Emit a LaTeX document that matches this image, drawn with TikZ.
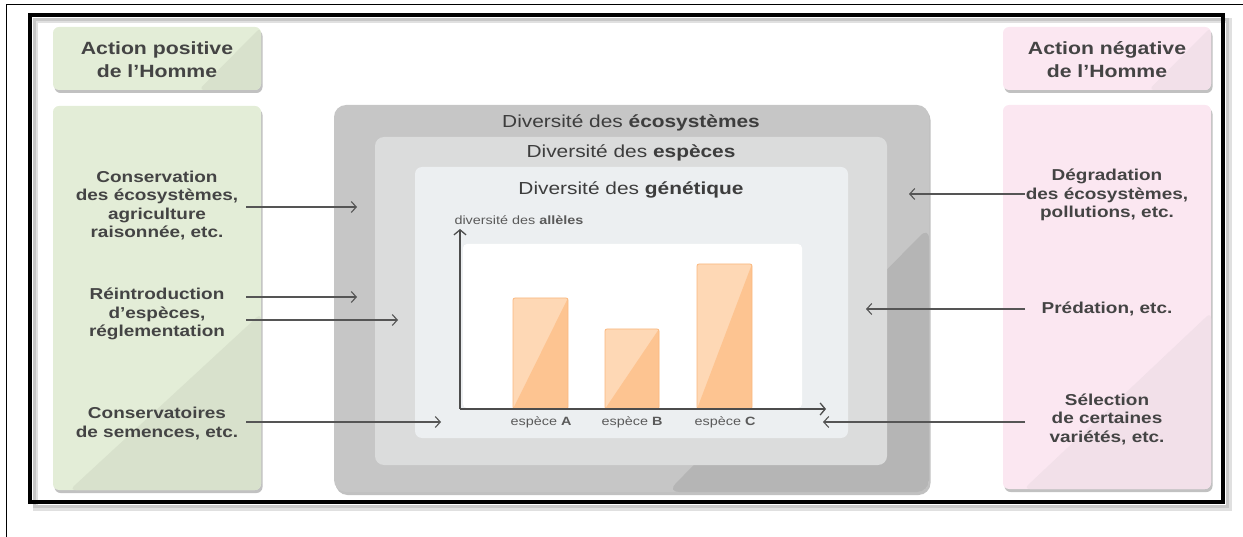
\documentclass[tikz,border=0pt]{standalone}
\usepackage{fontspec}
\setmainfont{Liberation Sans}[FakeStretch=1.2]
\usetikzlibrary{arrows.meta,shadows,calc}
\definecolor{txt}{HTML}{3D3D3D}
\definecolor{txtbold}{HTML}{444444}
\definecolor{txtlight}{HTML}{5A5A5A}
\definecolor{greyA}{HTML}{C6C6C6}
\definecolor{greyAd}{HTML}{B5B5B5}
\definecolor{greyB}{HTML}{DBDCDC}
\definecolor{greyC}{HTML}{ECEFF1}
\definecolor{greenL}{HTML}{E3EDD7}
\definecolor{greenD}{HTML}{D8E1CC}
\definecolor{pinkL}{HTML}{FBE7F1}
\definecolor{pinkD}{HTML}{F2E0E9}
\definecolor{barL}{HTML}{FED8B5}
\definecolor{barD}{HTML}{FDC491}
\definecolor{barE}{HTML}{FBB87E}
\definecolor{arrowc}{HTML}{555555}
\begin{document}
\begin{tikzpicture}[x=1pt,y=-1pt,
  boxbase/.style={rounded corners=6pt, inner sep=0pt,
    drop shadow={shadow xshift=1.5pt,shadow yshift=-3pt,opacity=.35,fill=black!70}},
  greenhead/.style={boxbase, fill=greenL, minimum width=208pt, minimum height=63pt,
    path picture={\fill[greenD] (path picture bounding box.north east) -- (path picture bounding box.south east) -- ($(path picture bounding box.south west)!0.7!(path picture bounding box.south east)$) -- cycle;}},
  pinkhead/.style={boxbase, fill=pinkL, minimum width=208pt, minimum height=63pt,
    path picture={\fill[pinkD] (path picture bounding box.north east) -- (path picture bounding box.south east) -- ($(path picture bounding box.south west)!0.7!(path picture bounding box.south east)$) -- cycle;}},
  greenbig/.style={boxbase, fill=greenL, minimum width=208pt, minimum height=384pt,
    path picture={\fill[greenD] ($(path picture bounding box.north east)!0.54!(path picture bounding box.south east)$) -- (path picture bounding box.south east) -- ($(path picture bounding box.south west)!0.08!(path picture bounding box.south east)$) -- cycle;}},
  pinkbig/.style={boxbase, fill=pinkL, minimum width=208pt, minimum height=384pt,
    path picture={\fill[pinkD] ($(path picture bounding box.north east)!0.54!(path picture bounding box.south east)$) -- (path picture bounding box.south east) -- ($(path picture bounding box.south west)!0.1!(path picture bounding box.south east)$) -- cycle;}},
  greyouter/.style={boxbase, rounded corners=12pt, fill=greyA, minimum width=595pt, minimum height=387pt,
    path picture={\fill[greyAd] ($(path picture bounding box.north east)!0.315!(path picture bounding box.south east)$) -- (path picture bounding box.south east) -- ($(path picture bounding box.south west)!0.56!(path picture bounding box.south east)$) -- cycle;}},
  greymid/.style={rounded corners=9pt, inner sep=0pt, fill=greyB, minimum width=512pt, minimum height=328pt},
  greyin/.style={rounded corners=7pt, inner sep=0pt, fill=greyC, minimum width=433pt, minimum height=271pt},
  chartbg/.style={rounded corners=4pt, inner sep=0pt, fill=white, minimum width=339pt, minimum height=164pt},
  bar/.style={rounded corners=2pt, inner sep=0pt, fill=barL, draw=barE, line width=0.8pt, minimum width=55pt,
    path picture={\fill[barD] (path picture bounding box.north east) -- (path picture bounding box.south east) -- (path picture bounding box.south west) -- cycle;}},
  sidetext/.style={align=center, text=txtbold, font=\fontsize{15.8pt}{18.5pt}\selectfont\bfseries},
  headtext/.style={align=center, text=txtbold, font=\fontsize{17.7pt}{23pt}\selectfont\bfseries},
  titletext/.style={text=txt, font=\fontsize{17.4pt}{20pt}\selectfont},
  smalltext/.style={text=txtlight, font=\fontsize{12pt}{14pt}\selectfont},
  conn/.style={draw=arrowc, line width=1.1pt, -{Straight Barb[length=5pt,width=11pt,line width=1.1pt]}},
  axis/.style={draw=arrowc!90!black, line width=1.4pt, -{Straight Barb[length=5pt,width=12pt,line width=1.3pt]}}
]
\useasboundingbox (0,0) rectangle (1243,537);
% outer thin frame
\draw[line width=0.8pt] (6,537) -- (6,4) -- (1243,4);
% thick frame with soft shadow
\draw[line width=5pt, black!12] (35,21) rectangle (1229,508);
\draw[line width=3pt, black!22] (34,20) rectangle (1227,506);
\draw[line width=4pt, black] (30,15) rectangle (1223,502);

% side boxes
\node[greenhead] (poshead) at (157,58.5) {};
\node[greenbig] (posbox) at (157,298) {};
\node[pinkhead] (neghead) at (1107,58.5) {};
\node[pinkbig] (negbox) at (1107,297) {};

\node[headtext] (posheadtxt) at (157,60) {Action positive\\de l’Homme};
\node[headtext] (negheadtxt) at (1107,60) {Action négative\\de l’Homme};

% nested boxes
\node[greyouter] (eco) at (631.5,298.5) {};
\node[greymid] (esp) at (631,301) {};
\node[greyin] (gen) at (631.5,302.5) {};
\node[chartbg] (chart) at (632.5,326) {};

\node[titletext] (ecot) at (631,123) {Diversité des \textbf{écosystèmes}};
\node[titletext] (espt) at (631,153) {Diversité des \textbf{espèces}};
\node[titletext] (gent) at (631,190) {Diversité des \textbf{génétique}};

% bars
\node[bar, minimum height=111pt] (barA) at (540.5,353.5) {};
\node[bar, minimum height=80pt, minimum width=54pt] (barB) at (632,369) {};
\node[bar, minimum height=145pt] (barC) at (724.5,336.5) {};

% axes
\coordinate (origin) at (460,409);
\coordinate (ytop) at (460,229);
\coordinate (xend) at (826,409);
\draw[axis] (origin) -- (ytop);
\draw[axis] (origin) -- (xend);
\node[smalltext, anchor=west] (ylab) at (451,220) {diversité des \textbf{allèles}};
\node[smalltext] (labA) at (541,422) {espèce \textbf{A}};
\node[smalltext] (labB) at (632,422) {espèce \textbf{B}};
\node[smalltext] (labC) at (725,422) {espèce \textbf{C}};

% left texts
\node[sidetext] (cons) at (157,205.5) {Conservation\\des écosystèmes,\\agriculture\\raisonnée, etc.};
\node[sidetext] (reint) at (157,314) {Réintroduction\\d’espèces,\\réglementation};
\node[sidetext] (consv) at (157,423.5) {Conservatoires\\de semences, etc.};

% right texts
\node[sidetext] (degr) at (1107,195) {Dégradation\\des écosystèmes,\\pollutions, etc.};
\node[sidetext] (pred) at (1107,309) {Prédation, etc.};
\node[sidetext] (sel) at (1107,419) {Sélection\\de certaines\\variétés, etc.};

% connector coordinates
\coordinate (l1s) at (246,207); \coordinate (l1e) at (357,207);
\coordinate (l2s) at (246,297); \coordinate (l2e) at (357,297);
\coordinate (l3s) at (246,320); \coordinate (l3e) at (398,320);
\coordinate (l4s) at (246,422); \coordinate (l4e) at (441,422);
\coordinate (r1s) at (1025,194); \coordinate (r1e) at (909,194);
\coordinate (r2s) at (1025,309); \coordinate (r2e) at (866,309);
\coordinate (r3s) at (1025,422); \coordinate (r3e) at (823,422);

\draw[conn] (l1s) -- (l1e);
\draw[conn] (l2s) -- (l2e);
\draw[conn] (l3s) -- (l3e);
\draw[conn] (l4s) -- (l4e);
\draw[conn] (r1s) -- (r1e);
\draw[conn] (r2s) -- (r2e);
\draw[conn] (r3s) -- (r3e);
\end{tikzpicture}
\end{document}
